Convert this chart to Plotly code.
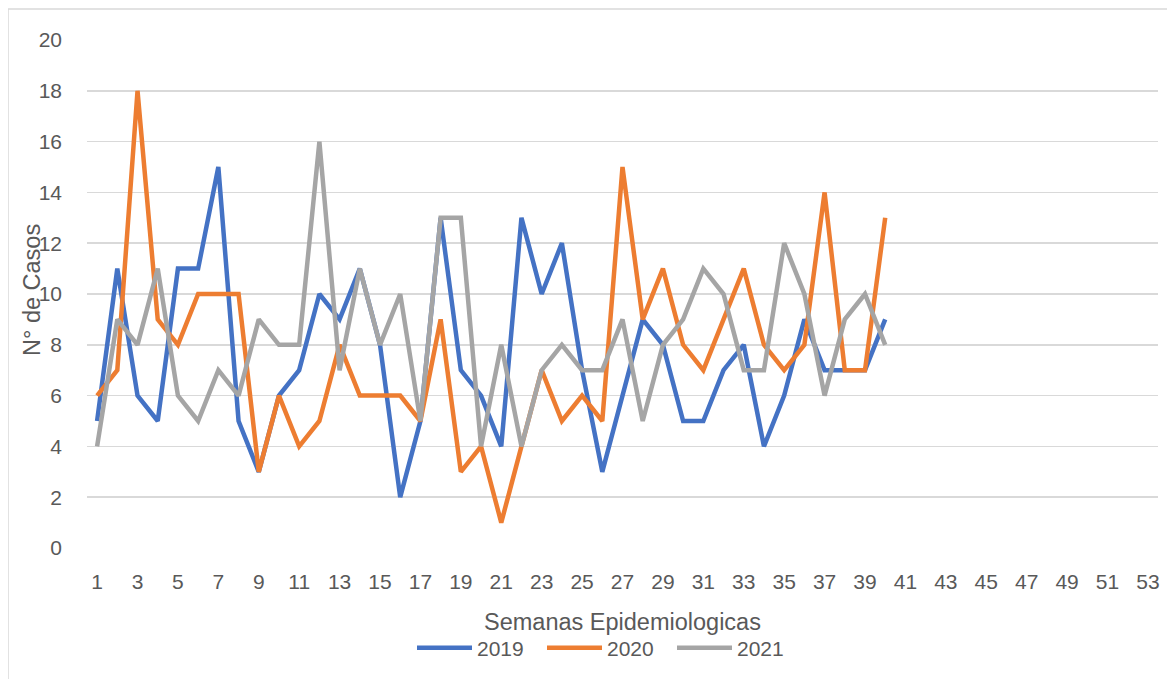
import plotly.graph_objects as go

weeks = list(range(1, 41))
s2019 = [5, 11, 6, 5, 11, 11, 15, 5, 3, 6,
         7, 10, 9, 11, 8, 2, 5, 13, 7, 6,
         4, 13, 10, 12, 7, 3, 6, 9, 8, 5,
         5, 7, 8, 4, 6, 9, 7, 7, 7, 9]
s2020 = [6, 7, 18, 9, 8, 10, 10, 10, 3, 6,
         4, 5, 8, 6, 6, 6, 5, 9, 3, 4,
         1, 4, 7, 5, 6, 5, 15, 9, 11, 8,
         7, 9, 11, 8, 7, 8, 14, 7, 7, 13]
s2021 = [4, 9, 8, 11, 6, 5, 7, 6, 9, 8,
         8, 16, 7, 11, 8, 10, 5, 13, 13, 4,
         8, 4, 7, 8, 7, 7, 9, 5, 8, 9,
         11, 10, 7, 7, 12, 10, 6, 9, 10, 8]
series_names = ["2019", "2020", "2021"]
colors = ["#4472C4", "#ED7D31", "#A5A5A5"]
x_ticks = list(range(1, 54, 2))
x_ticktext = [str(v) for v in x_ticks]
y_ticks = list(range(0, 21, 2))

FONT = "Liberation Sans, Arial, sans-serif"
TXT = "#595959"

OFF = 8  # browser body margin
W, H = 1175 - OFF, 679 - OFF
# plot area in page pixels
PL, PR, PT, PB = 87, 1158, 40, 548
L, T = PL - OFF, PT - OFF
R, B = W - (PR - OFF), H - (PB - OFF)
pw, ph = PR - PL, PB - PT

def px_x(p):
    return (p - PL) / pw

def px_y(p):
    return (PB - p) / ph

fig = go.Figure()
for name, vals, col in zip(series_names, [s2019, s2020, s2021], colors):
    fig.add_trace(go.Scatter(
        x=weeks, y=vals, name=name, mode="lines",
        line=dict(color=col, width=4.5), hoverinfo="skip"))

fig.update_layout(
    width=W, height=H,
    margin=dict(l=L, r=R, t=T, b=B, autoexpand=False),
    paper_bgcolor="white", plot_bgcolor="white",
    font=dict(family=FONT, color=TXT, size=21),
    showlegend=True,
    legend=dict(orientation="h", x=px_x(412), xanchor="left",
                y=px_y(648), yanchor="middle",
                font=dict(size=21, color=TXT, family=FONT),
                itemwidth=55, entrywidth=60, tracegroupgap=0,
                bgcolor="rgba(0,0,0,0)"),
    xaxis=dict(range=[0.5, 53.5], tickmode="array", tickvals=x_ticks,
               ticktext=x_ticktext, showgrid=False, zeroline=False,
               showline=False, ticks="", ticklabelstandoff=19,
               tickfont=dict(size=21, color=TXT, family=FONT),
               fixedrange=True),
    yaxis=dict(range=[0, 20], tickmode="array", tickvals=y_ticks,
               showgrid=True, gridcolor="#D9D9D9", gridwidth=1.5,
               zeroline=False, showline=False, ticks="",
               ticklabelstandoff=24,
               tickfont=dict(size=21, color=TXT, family=FONT),
               fixedrange=True),
    annotations=[
        dict(text="Semanas Epidemiologicas", xref="paper", yref="paper",
             x=px_x(622), y=px_y(622), xanchor="center", yanchor="middle",
             showarrow=False, font=dict(size=23.5, color=TXT, family=FONT)),
        dict(text="N° de Casos", xref="paper", yref="paper",
             x=px_x(32), y=px_y(290), xanchor="center", yanchor="middle",
             textangle=-90, showarrow=False,
             font=dict(size=23.5, color=TXT, family=FONT)),
    ],
    shapes=[dict(type="rect", xref="paper", yref="paper",
                 x0=px_x(8), x1=px_x(1190), y0=px_y(700), y1=px_y(9),
                 line=dict(color="#D9D9D9", width=1.5), layer="below")],
)

fig.write_html("out.html", config=dict(displayModeBar=False, staticPlot=True))
